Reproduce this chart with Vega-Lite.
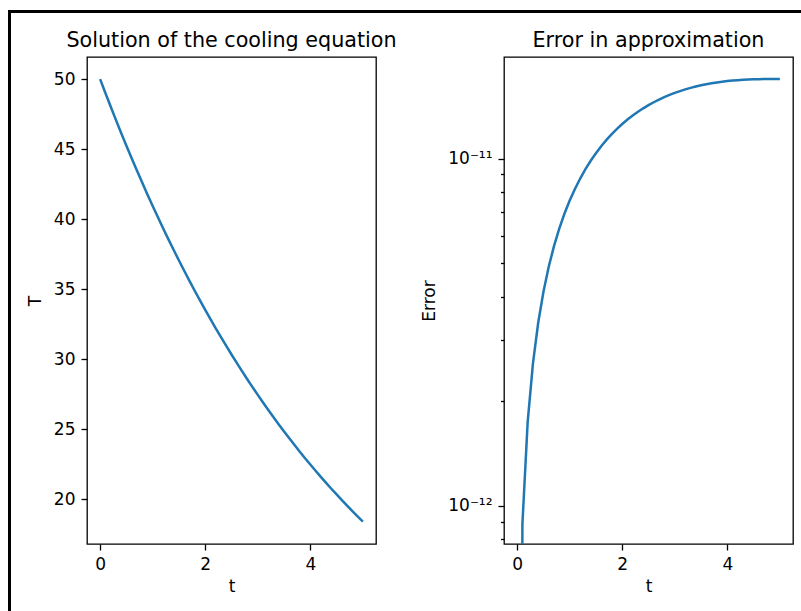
{
  "$schema": "https://vega.github.io/schema/vega-lite/v6.json",
  "background": "white",
  "padding": {"left": 8, "top": 10, "right": 0, "bottom": 0},
  "bounds": "flush",
  "spacing": 0,
  "config": {
    "font": "DejaVu Sans",
    "view": {"stroke": "black", "strokeWidth": 1.3},
    "axis": {
      "domain": false, "grid": false,
      "tickColor": "black", "tickSize": 6, "tickWidth": 1.3,
      "labelColor": "black", "labelFontSize": 17, "labelFont": "DejaVu Sans", "labelPadding": 6,
      "titleFontSize": 17, "titleFontWeight": "normal", "titleColor": "black", "titleFont": "DejaVu Sans"
    },
    "axisX": {"titlePadding": 6.5, "labelFlush": false},
    "axisY": {"titlePadding": 8, "labelFlush": false},
    "title": {"fontSize": 20.7, "fontWeight": "normal", "color": "black", "font": "DejaVu Sans", "offset": 5.5}
  },
  "datasets": {
    "none": [],
    "cool": [
      {"t": 0.0, "T": 50.0}, {"t": 0.1, "T": 49.0099}, {"t": 0.2, "T": 48.0395}, {"t": 0.3, "T": 47.0882},
      {"t": 0.4, "T": 46.1558}, {"t": 0.5, "T": 45.2419}, {"t": 0.6, "T": 44.346}, {"t": 0.7, "T": 43.4679},
      {"t": 0.8, "T": 42.6072}, {"t": 0.9, "T": 41.7635}, {"t": 1.0, "T": 40.9365}, {"t": 1.1, "T": 40.1259},
      {"t": 1.2, "T": 39.3314}, {"t": 1.3, "T": 38.5526}, {"t": 1.4, "T": 37.7892}, {"t": 1.5, "T": 37.0409},
      {"t": 1.6, "T": 36.3075}, {"t": 1.7, "T": 35.5885}, {"t": 1.8, "T": 34.8838}, {"t": 1.9, "T": 34.1931},
      {"t": 2.0, "T": 33.516}, {"t": 2.1, "T": 32.8523}, {"t": 2.2, "T": 32.2018}, {"t": 2.3, "T": 31.5642},
      {"t": 2.4, "T": 30.9392}, {"t": 2.5, "T": 30.3265}, {"t": 2.6, "T": 29.726}, {"t": 2.7, "T": 29.1374},
      {"t": 2.8, "T": 28.5605}, {"t": 2.9, "T": 27.9949}, {"t": 3.0, "T": 27.4406}, {"t": 3.1, "T": 26.8972},
      {"t": 3.2, "T": 26.3646}, {"t": 3.3, "T": 25.8425}, {"t": 3.4, "T": 25.3308}, {"t": 3.5, "T": 24.8293},
      {"t": 3.6, "T": 24.3376}, {"t": 3.7, "T": 23.8557}, {"t": 3.8, "T": 23.3833}, {"t": 3.9, "T": 22.9203},
      {"t": 4.0, "T": 22.4664}, {"t": 4.1, "T": 22.0216}, {"t": 4.2, "T": 21.5855}, {"t": 4.3, "T": 21.1581},
      {"t": 4.4, "T": 20.7391}, {"t": 4.5, "T": 20.3285}, {"t": 4.6, "T": 19.9259}, {"t": 4.7, "T": 19.5314},
      {"t": 4.8, "T": 19.1446}, {"t": 4.9, "T": 18.7655}, {"t": 5.0, "T": 18.394}
    ],
    "err": [
      {"t": 0.0, "E": 1e-30}, {"t": 0.1, "E": 8.836e-13}, {"t": 0.2, "E": 1.7381e-12}, {"t": 0.3, "E": 2.5633e-12},
      {"t": 0.4, "E": 3.3603e-12}, {"t": 0.5, "E": 4.129e-12}, {"t": 0.6, "E": 4.8702e-12}, {"t": 0.7, "E": 5.5843e-12},
      {"t": 0.8, "E": 6.2717e-12}, {"t": 0.9, "E": 6.932e-12}, {"t": 1.0, "E": 7.5666e-12}, {"t": 1.1, "E": 8.1755e-12},
      {"t": 1.2, "E": 8.7591e-12}, {"t": 1.3, "E": 9.3179e-12}, {"t": 1.4, "E": 9.8525e-12}, {"t": 1.5, "E": 1.03631e-11},
      {"t": 1.6, "E": 1.085e-11}, {"t": 1.7, "E": 1.1314e-11}, {"t": 1.8, "E": 1.17553e-11}, {"t": 1.9, "E": 1.21743e-11},
      {"t": 2.0, "E": 1.25718e-11}, {"t": 2.1, "E": 1.29481e-11}, {"t": 2.2, "E": 1.33035e-11}, {"t": 2.3, "E": 1.36385e-11},
      {"t": 2.4, "E": 1.39536e-11}, {"t": 2.5, "E": 1.42497e-11}, {"t": 2.6, "E": 1.45265e-11}, {"t": 2.7, "E": 1.4785e-11},
      {"t": 2.8, "E": 1.50255e-11}, {"t": 2.9, "E": 1.52486e-11}, {"t": 3.0, "E": 1.54549e-11}, {"t": 3.1, "E": 1.56448e-11},
      {"t": 3.2, "E": 1.58191e-11}, {"t": 3.3, "E": 1.59781e-11}, {"t": 3.4, "E": 1.61226e-11}, {"t": 3.5, "E": 1.62525e-11},
      {"t": 3.6, "E": 1.63691e-11}, {"t": 3.7, "E": 1.64725e-11}, {"t": 3.8, "E": 1.65637e-11}, {"t": 3.9, "E": 1.66434e-11},
      {"t": 4.0, "E": 1.67117e-11}, {"t": 4.1, "E": 1.67698e-11}, {"t": 4.2, "E": 1.68181e-11}, {"t": 4.3, "E": 1.68575e-11},
      {"t": 4.4, "E": 1.68885e-11}, {"t": 4.5, "E": 1.6912e-11}, {"t": 4.6, "E": 1.6929e-11}, {"t": 4.7, "E": 1.69402e-11},
      {"t": 4.8, "E": 1.69466e-11}, {"t": 4.9, "E": 1.69495e-11}, {"t": 5.0, "E": 1.695e-11}
    ]
  },
  "hconcat": [
    {
      "width": 1, "height": 602,
      "data": {"name": "none"},
      "mark": "point",
      "encoding": {},
      "view": {"stroke": "black", "strokeWidth": 2, "fill": "black"}
    },
    {
      "bounds": "flush",
      "spacing": 45,
      "vconcat": [
        {
          "width": 792, "height": 1,
          "data": {"name": "none"},
          "mark": "point",
          "encoding": {},
          "view": {"stroke": "black", "strokeWidth": 2, "fill": "black"}
        },
        {
          "bounds": "flush",
          "spacing": 0,
          "hconcat": [
            {
              "width": 77, "height": 1,
              "data": {"name": "none"},
              "mark": "point",
              "encoding": {},
              "view": {"stroke": null, "fill": null}
            },
            {
              "bounds": "flush",
              "spacing": 128,
              "hconcat": [
                {
                  "title": "Solution of the cooling equation",
                  "width": 289, "height": 487,
                  "data": {"name": "cool"},
                  "mark": {"type": "line", "color": "#1f77b4", "strokeWidth": 2.5, "clip": true},
                  "encoding": {
                    "x": {"field": "t", "type": "quantitative", "title": "t",
                          "scale": {"domain": [-0.25, 5.25], "nice": false, "zero": false},
                          "axis": {"values": [0, 2, 4]}},
                    "y": {"field": "T", "type": "quantitative", "title": "T",
                          "scale": {"domain": [16.79, 51.58], "nice": false, "zero": false},
                          "axis": {"values": [20, 25, 30, 35, 40, 45, 50], "titlePadding": 9}}
                  }
                },
                {
                  "title": "Error in approximation",
                  "width": 289, "height": 487,
                  "data": {"name": "err"},
                  "mark": {"type": "line", "color": "#1f77b4", "strokeWidth": 2.5, "clip": true},
                  "encoding": {
                    "x": {"field": "t", "type": "quantitative", "title": "t",
                          "scale": {"domain": [-0.25, 5.25], "nice": false, "zero": false},
                          "axis": {"values": [0, 2, 4]}},
                    "y": {"field": "E", "type": "quantitative", "title": "Error",
                          "scale": {"type": "log", "domain": [7.76e-13, 1.961e-11], "nice": false},
                          "axis": {
                            "titlePadding": 9.5,
                            "values": [8e-13, 9e-13, 1e-12, 2e-12, 3e-12, 4e-12, 5e-12, 6e-12, 7e-12, 8e-12, 9e-12, 1e-11],
                            "labelExpr": "abs(log(datum.value)/LN10 + 12) < 0.001 ? '10⁻¹²' : (abs(log(datum.value)/LN10 + 11) < 0.001 ? '10⁻¹¹' : '')",
                            "tickSize": {"condition": {"test": "abs(log(datum.value)/LN10 - round(log(datum.value)/LN10)) < 0.001", "value": 6}, "value": 3.5}
                          }}
                  }
                }
              ]
            }
          ]
        }
      ]
    }
  ]
}
